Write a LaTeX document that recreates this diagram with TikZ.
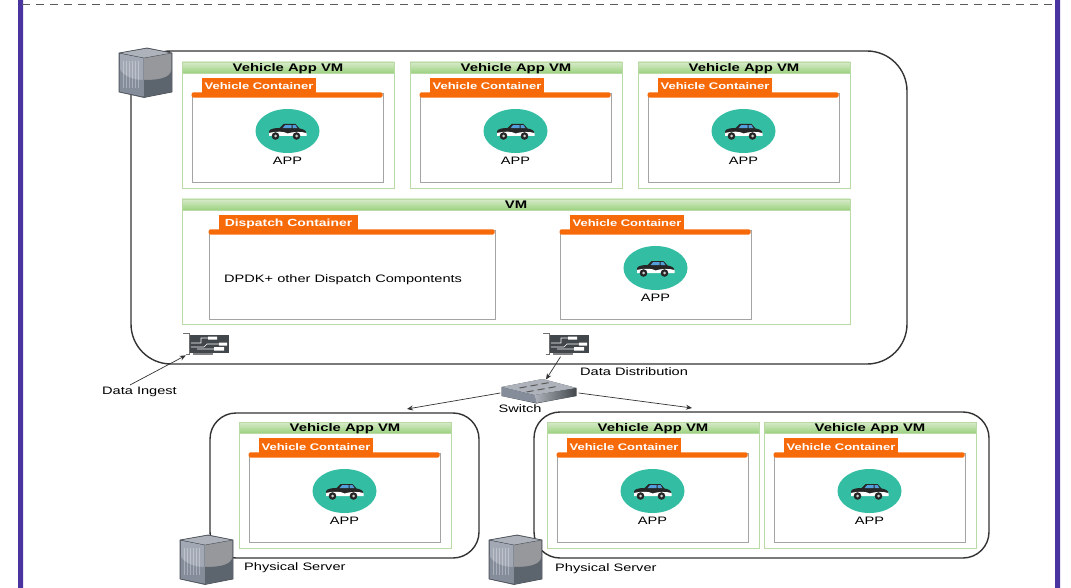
\documentclass[tikz,border=0pt]{standalone}
\usepackage{fontspec}
\setmainfont[FakeStretch=1.35]{Liberation Sans}
\usetikzlibrary{shapes.geometric,arrows.meta}
\definecolor{frameblue}{HTML}{4A35A0}
\definecolor{dashgray}{HTML}{5A5A5A}
\definecolor{vmgreen}{HTML}{B9D9A5}
\definecolor{headtop}{HTML}{D8EBCB}
\definecolor{headbot}{HTML}{9CD27F}
\definecolor{contor}{HTML}{F66A0A}
\definecolor{contgray}{HTML}{A4A4A4}
\definecolor{teal}{HTML}{33BDA3}
\definecolor{linedark}{HTML}{333333}
\definecolor{carddark}{HTML}{41474B}
\definecolor{srvtop}{HTML}{AEB3BB}
\definecolor{srvleft}{HTML}{A3A9B4}
\definecolor{srvleftlow}{HTML}{858D9A}
\definecolor{srvright}{HTML}{96989B}
\definecolor{srvrightlow}{HTML}{5C646E}
\definecolor{srvedge}{HTML}{50565E}
\tikzset{
  outerbox/.style={draw=linedark,line width=1.4pt,rounded corners=#1},
  vmbox/.style={draw=vmgreen,line width=.9pt,fill=white,inner sep=0pt},
  vmhead/.style={draw=vmgreen,line width=.6pt,top color=headtop,bottom color=headbot,inner sep=0pt,
    font=\fontsize{11}{12}\selectfont\bfseries,text=black,text height=8.5pt,text depth=0pt},
  contbox/.style={draw=contgray,line width=.8pt,fill=white,inner sep=0pt},
  conttab/.style={fill=contor,text=white,inner sep=0pt,minimum height=17pt,
    font=\fontsize{#1}{11}\selectfont\bfseries,text height=7.5pt,text depth=.5pt},
  conttab/.default=9.6,
  appdisc/.style={ellipse,fill=teal,inner sep=0pt,minimum width=64pt,minimum height=44pt},
  lbl/.style={font=\fontsize{10.8}{12}\selectfont,text=black,inner sep=0pt},
  conn/.style={draw=linedark,line width=.7pt,-{Stealth[length=6pt,width=5pt]}},
  pics/carpic/.style={code={
    \fill[black!85] (-18.5,3) -- (-18.5,0) .. controls (-17,-2.5) and (-12,-3) .. (-8,-3)
      -- (-4,-7) -- (8,-7) -- (12,-2.5) .. controls (16,-2) and (19,-.5) .. (19,3) -- cycle;
    \fill[white] (-18.5,2) .. controls (-10,0) and (-3,.5) .. (0,2.5) .. controls (6,.5) and (14,.5) .. (19,2)
      -- (19,5) -- (-18.5,5) -- cycle;
    \fill[cyan!65!blue!70] (-2.5,-5.8) -- (4,-5.8) -- (4,-2.8) -- (-5,-2.8) -- cycle;
    \fill[cyan!65!blue!70] (5,-5.8) -- (8,-5.8) -- (10,-2.8) -- (5,-2.8) -- cycle;
    \fill[black!85] (-12,5) circle (3.8) (9,5) circle (3.8);
    \fill[white!80!black] (-12,5) circle (1.5) (9,5) circle (1.5);
  }},
  pics/serverpic/.style={code={
    \coordinate (-c) at (0,0);
    \fill[srvedge] (-27,-20) -- (1,-25) -- (26,-20) -- (26,19) -- (-2,24.5) -- (-27,19) -- cycle;
    \fill[srvtop] (-26.5,-20) -- (1,-24.5) -- (25.5,-20) -- (-2,-15) -- cycle;
    \fill[srvright] (-2,-15) -- (25.5,-20) -- (25.5,19) -- (-2,24) -- cycle;
    \fill[srvrightlow] (-2,7) .. controls (10,7) and (24,6) .. (25.5,-3) -- (25.5,19) -- (-2,24) -- cycle;
    \fill[srvleft] (-26.5,-19.5) -- (-2.5,-15) -- (-2.5,23.5) -- (-26.5,18.5) -- cycle;
    \fill[srvleftlow] (-26.5,-4) .. controls (-22,4) and (-12,7) .. (-2.5,7) -- (-2.5,23.5) -- (-26.5,18.5) -- cycle;
    \foreach \gx in {-23,-20,...,-6}{\draw[white,opacity=.3,line width=.6pt] (\gx,-12) -- (\gx,15);}
    \draw[srvedge,line width=.7pt,line join=round] (-27,-20) -- (1,-25) -- (26,-20) -- (26,19) -- (-2,24.5) -- (-27,19) -- cycle;
    \draw[srvedge,line width=.4pt] (-27,-20) -- (-2,-15) -- (26,-20);
  }},
  pics/cardpic/.style={code={
    \draw[linedark!70,line width=.8pt] (-4,-10.5) -- (2,-10.5) -- (2,10) -- (-1,10);
    \fill[carddark] (3,-9) rectangle (42,9);
    \fill[gray] (6,9) rectangle (26,11);
    \fill[white] (21,-7.5) rectangle (30,-4.5) (32,-1.5) rectangle (40,1.5) (27,3) rectangle (37,6.5);
    \draw[white,line width=.6pt] (4,-1) -- (14,-1) -- (14,-6) -- (21,-6) (4,3) -- (17,3) -- (20,0) -- (32,0) (10,5) -- (27,5);
  }},
  pics/switchpic/.style={code={
    \fill[carddark] (-38,-6) -- (3,-14) -- (37,-5) -- (37,3) -- (-3,10.5) -- (-38,3) -- cycle;
    \fill[srvtop] (-38,-6) -- (3,-14) -- (37,-5) -- (-5,2) -- cycle;
    \fill[srvleftlow] (-38,-6) -- (-5,2) -- (-3,10) -- (-38,3) -- cycle;
    \shade[left color=srvtop,right color=carddark] (-5,2) -- (37,-5) -- (37,3) -- (-3,10) -- cycle;
    \foreach \a/\b in {-20/-5,-9/-7,2/-9,-13/-1,-2/-3,9/-5}{
      \draw[gray!70!black,line width=1pt] (\a,\b) -- ++(7,-1.3);}
  }}
}
\newcommand\appmark[3]{% name, cx, y of disc
  \node[appdisc] (#1) at (#2,#3) {};
  \pic at (#1.center) {carpic};
  \node[lbl,anchor=center] (#1t) at (#2,#3+29.5) {APP};
}
\newcommand\vehcont[3]{% name, cx, top
  \node[contbox,minimum width=191pt,minimum height=89pt] (#1) at (#2,#3+44.5) {};
  \fill[contor,rounded corners=2pt] ([yshift=.3pt]#1.north west) rectangle ++(191,5.3);
  \node[conttab,minimum width=114pt] (#1tab) at (#2-28.5,#3-6.5) {Vehicle Container};
  \appmark{#1app}{#2}{#3+38}
}
\newcommand\vmunit[3]{% name, dx, dy
  \begin{scope}[shift={(#2,#3)}]
    \node[vmbox,minimum width=212pt,minimum height=126pt] (#1) at (288,125) {};
    \node[vmhead,minimum width=212pt,minimum height=11pt] (#1h) at (288,67.5) {Vehicle App VM};
    \vehcont{#1c}{287.5}{93}
  \end{scope}
}
\begin{document}
\begin{tikzpicture}[x=1pt,y=-1pt]
\useasboundingbox (0,0) rectangle (1071,588);
\fill[white] (0,0) rectangle (1071,588);
% page frame
\fill[frameblue] (18,0) rectangle (23,588) (1055,0) rectangle (1060,588);
\coordinate (dl) at (22,4.5);
\coordinate (dr) at (1054,4.5);
\draw[dashgray,line width=1.7pt,dash pattern=on 8pt off 6pt] (dl) -- (dr);
% outer servers
\draw[outerbox=40pt] (131,51) rectangle (907,364);
\draw[outerbox=26pt] (210,413) rectangle (479,558);
\draw[outerbox=26pt] (534,412) rectangle (989,558);
% upper VMs
\vmunit{vma}{0}{0}
\vmunit{vmb}{228}{0}
\vmunit{vmc}{456}{0}
% wide VM
\node[vmbox,minimum width=668pt,minimum height=125pt] (vmw) at (516,261.5) {};
\node[vmhead,minimum width=668pt,minimum height=11pt] (vmwh) at (516,204.5) {VM};
\node[contbox,minimum width=286pt,minimum height=89pt] (disp) at (352,274.5) {};
\fill[contor,rounded corners=2pt] ([yshift=.3pt]disp.north west) rectangle ++(286,5.3);
\node[conttab=10.3,minimum width=139pt] (disptab) at (288.5,223.5) {Dispatch Container};
\node[lbl,anchor=west] (disptxt) at (224,279.5) {DPDK+ other Dispatch Compontents};
\vehcont{vmwc}{655.5}{230}
% lower VMs
\vmunit{vmd}{57}{360}
\vmunit{vme}{365}{360}
\vmunit{vmf}{582}{360}
% server icons
\pic (sa) at (146,73) {serverpic};
\pic (sb) at (207,560) {serverpic};
\pic (sc) at (516,560) {serverpic};
\node[lbl,anchor=west] (sbl) at (244,567.5) {Physical Server};
\node[lbl,anchor=west] (scl) at (555,568.5) {Physical Server};
% cards and switch
\pic (cardA) at (187,344) {cardpic};
\pic (cardB) at (547,344) {cardpic};
\node[inner sep=0pt,minimum width=1pt,minimum height=1pt] (ca) at (186.5,355) {};
\node[inner sep=0pt,minimum width=1pt,minimum height=1pt] (cb) at (561,356) {};
\pic at (539.5,393) {switchpic};
\node[inner sep=0pt,minimum width=78pt,minimum height=24pt] (sw) at (539.5,393) {};
\node[lbl] (swl) at (520,408.5) {Switch};
\node[lbl,anchor=west] (ingest) at (102,391.5) {Data Ingest};
\node[lbl,anchor=west] (dist) at (580,372) {Data Distribution};
\coordinate (inl) at (407,409);
\coordinate (inr) at (692,408);
\coordinate (swin) at (546,379.5);
% connectors
\draw[conn] (130,385) -- (ca);
\draw[conn] (cb) -- (swin);
\draw[conn] (sw.west) -- (inl);
\draw[conn] (sw.east) -- (inr);
\end{tikzpicture}
\end{document}
